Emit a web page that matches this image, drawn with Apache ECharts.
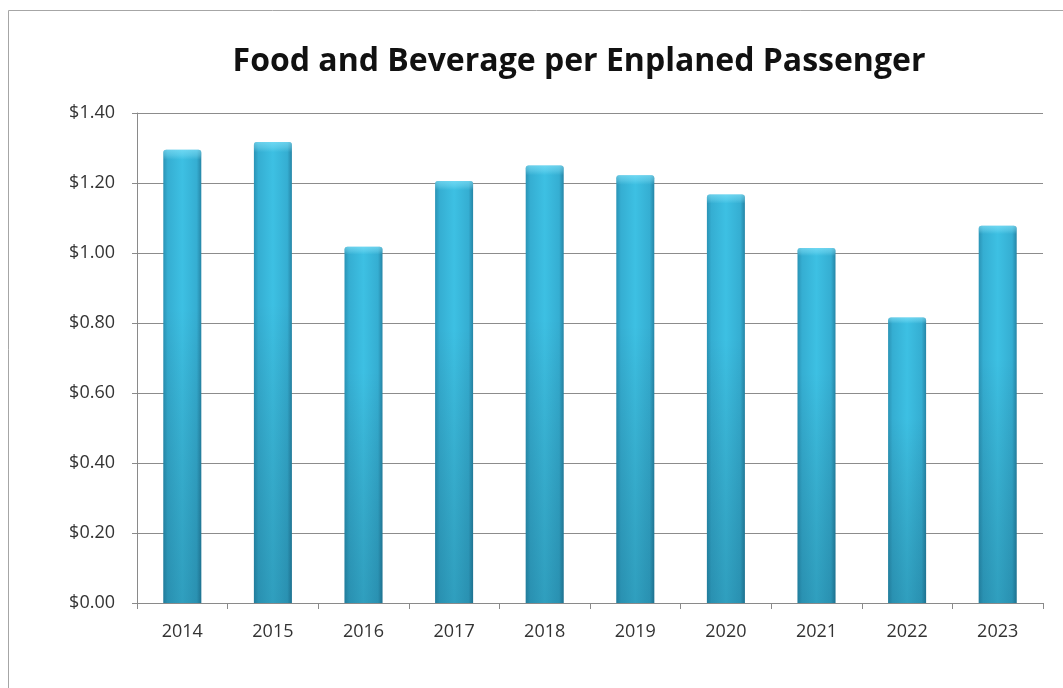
<!DOCTYPE html>
<html>
<head>
<meta charset="utf-8">
<script src="https://cdn.jsdelivr.net/npm/echarts@6/dist/echarts.min.js"></script>
<style>
html,body{margin:0;padding:0;background:#fff;}
#chart{width:1063px;height:688px;}
</style>
</head>
<body>
<div id="chart"></div>
<script>
const categories = ['2014','2015','2016','2017','2018','2019','2020','2021','2022','2023'];
const values = [1.295, 1.317, 1.018, 1.206, 1.250, 1.222, 1.167, 1.014, 0.816, 1.078];
const titleText = 'Food and Beverage per Enplaned Passenger';

const chart = echarts.init(document.getElementById('chart'), null, {renderer:'canvas'});
const barFill = new echarts.graphic.LinearGradient(0,0,1,0,[
  {offset:0, color:'#2a93b5'},
  {offset:0.12, color:'#35aed2'},
  {offset:0.5, color:'#3dc0e3'},
  {offset:0.88, color:'#35aed2'},
  {offset:1, color:'#2685a6'}
]);
const shade = new echarts.graphic.LinearGradient(0,0,0,1,[
  {offset:0, color:'rgba(150,235,255,0.55)'},
  {offset:0.012, color:'rgba(150,235,255,0.3)'},
  {offset:0.022, color:'rgba(150,235,255,0)'},
  {offset:0.35, color:'rgba(0,0,0,0)'},
  {offset:1, color:'rgba(0,40,60,0.22)'}
]);
chart.setOption({
  animation:false,
  graphic:[{type:'rect', shape:{x:8.5,y:10.5,width:1080,height:700}, style:{fill:'none', stroke:'#a6a6a6', lineWidth:1}, silent:true, z:-10}],
  title:{text:titleText, left:574, textAlign:'center', top:41,
    textStyle:{fontFamily:'Open Sans', fontWeight:'bold', fontSize:32, color:'#111'}},
  grid:{left:137, right:20, top:113, bottom:85},
  xAxis:{type:'category', data:categories,
    axisLine:{lineStyle:{color:'#8a8a8a', width:1}},
    axisTick:{show:true, length:6, alignWithLabel:false, lineStyle:{color:'#8a8a8a'}},
    axisLabel:{color:'#333', fontFamily:'Open Sans', fontSize:18, margin:20}},
  yAxis:{type:'value', min:0, max:1.4, interval:0.2,
    axisLine:{show:true, lineStyle:{color:'#8a8a8a'}},
    axisTick:{show:true, length:5, lineStyle:{color:'#8a8a8a'}},
    splitLine:{lineStyle:{color:'#8c8c8c', width:1}},
    axisLabel:{color:'#333', fontFamily:'Open Sans', fontSize:18, margin:22,
      formatter:v=>'$'+v.toFixed(2)}},
  series:[
    {type:'bar', data:values, barWidth:38, itemStyle:{color:barFill, borderRadius:[3,3,0,0]}, z:2},
    {type:'bar', data:values, barWidth:38, barGap:'-100%', itemStyle:{color:shade, borderRadius:[3,3,0,0]}, z:3, silent:true}
  ]
});
</script>
</body>
</html>
